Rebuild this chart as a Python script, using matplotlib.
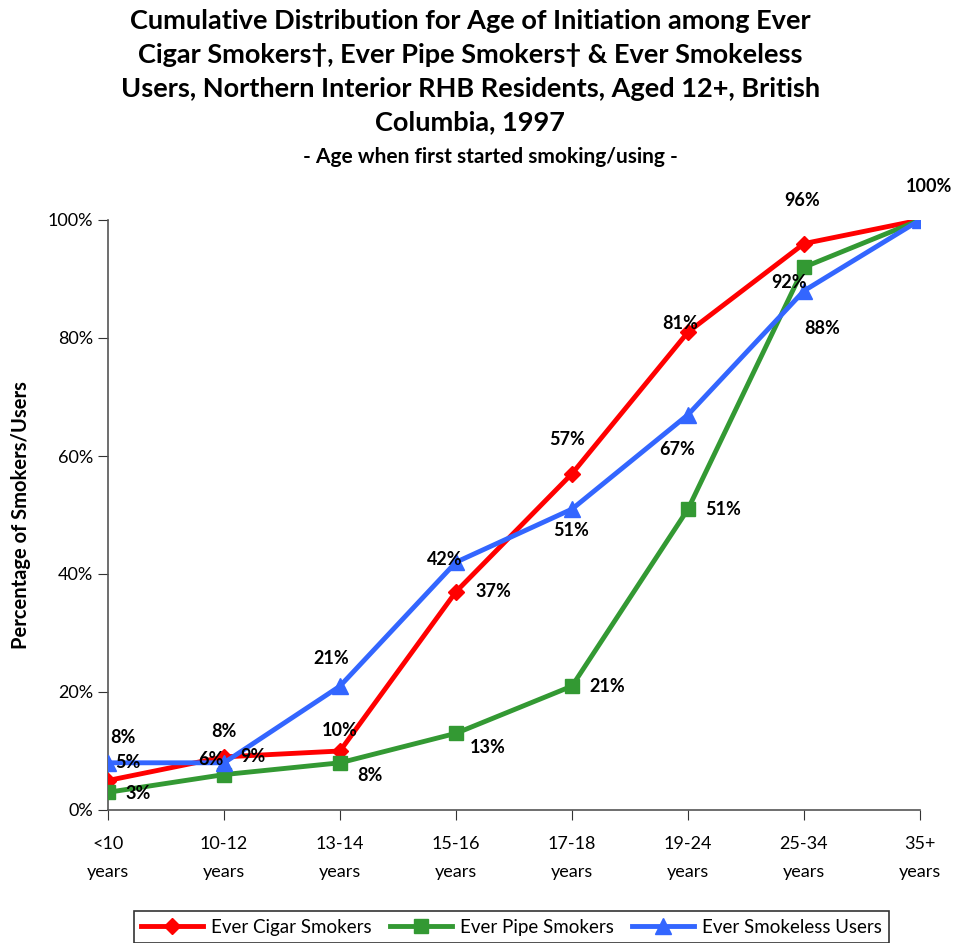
import matplotlib
matplotlib.use("Agg")
import matplotlib.pyplot as plt

categories = ["<10\nyears", "10-12\nyears", "13-14\nyears", "15-16\nyears",
              "17-18\nyears", "19-24\nyears", "25-34\nyears", "35+\nyears"]
cigar = [5, 9, 10, 37, 57, 81, 96, 100]
pipe = [3, 6, 8, 13, 21, 51, 92, 100]
smokeless = [8, 8, 21, 42, 51, 67, 88, 100]

# label offsets in pixels (dx, dy) per point
cigar_off = [(20, 18), (29, 0), (0, 20), (37, 0), (-5, 34), (-8, 9), (-2, 43), (9, 34)]
pipe_off = [(30, -1), (-13, 15), (30, -13), (32, -14), (35, 0), (35, 0), (-15, -15), None]
smoke_off = [(15, 25), (0, 31), (-9, 28), (-11, 3), (-1, -21), (-11, -35), (18, -38), None]

plt.rcParams['font.family'] = ['Lato', 'DejaVu Sans']

fig = plt.figure(figsize=(9.56, 9.43), dpi=100)
ax = fig.add_axes([108/956, 1-810/943, (920-108)/956, (810-220)/943])

x = list(range(len(categories)))
ax.plot(x, cigar, color="#FF0000", lw=3.5, marker="D", ms=8, label="Ever Cigar Smokers", zorder=3)
ax.plot(x, pipe, color="#339933", lw=3.5, marker="s", ms=10, label="Ever Pipe Smokers", zorder=3)
ax.plot(x, smokeless, color="#3366FF", lw=3.5, marker="^", ms=11, label="Ever Smokeless Users", zorder=3)

def annotate(vals, offs):
    for i, (v, o) in enumerate(zip(vals, offs)):
        if o is None:
            continue
        ax.annotate(f"{v}%", (i, v), xytext=o, textcoords="offset pixels",
                    ha="center", va="center", fontsize=13, fontweight="bold",
                    annotation_clip=False, zorder=5)

annotate(cigar, cigar_off)
annotate(pipe, pipe_off)
annotate(smokeless, smoke_off)

ax.set_xlim(0, 7)
ax.set_ylim(0, 100)
ax.set_yticks([0, 20, 40, 60, 80, 100])
ax.set_yticklabels([f"{t}%" for t in [0, 20, 40, 60, 80, 100]])
ax.set_xticks(x)
ax.set_xticklabels(categories, linespacing=1.9)
ax.tick_params(axis="both", labelsize=13, direction="out", length=7, color="#333333")
ax.tick_params(axis="x", pad=12)
ax.spines["top"].set_visible(False)
ax.spines["right"].set_visible(False)
for s in ("left", "bottom"):
    ax.spines[s].set_color("#555555")
    ax.spines[s].set_linewidth(1.2)

ax.set_ylabel("Percentage of Smokers/Users", fontsize=14.5, fontweight="bold", labelpad=12)

fig.text(0.492, 0.990, "Cumulative Distribution for Age of Initiation among Ever\n"
         "Cigar Smokers\u2020, Ever Pipe Smokers\u2020 & Ever Smokeless\n"
         "Users, Northern Interior RHB Residents, Aged 12+, British\n"
         "Columbia, 1997", ha="center", va="top", fontsize=19.5, fontweight="bold",
         linespacing=1.48)
fig.text(0.513, 0.833, "- Age when first started smoking/using -", ha="center", va="center",
         fontsize=15, fontweight="bold")

leg = fig.legend(loc="lower center", bbox_to_anchor=(0.535, -0.010), ncol=3, fontsize=13.5,
                 frameon=True, fancybox=False, edgecolor="black", handlelength=3.3,
                 columnspacing=1.0, handletextpad=0.4, borderpad=0.4)
leg.get_frame().set_linewidth(1.2)

fig.savefig("out.png", dpi=100)
